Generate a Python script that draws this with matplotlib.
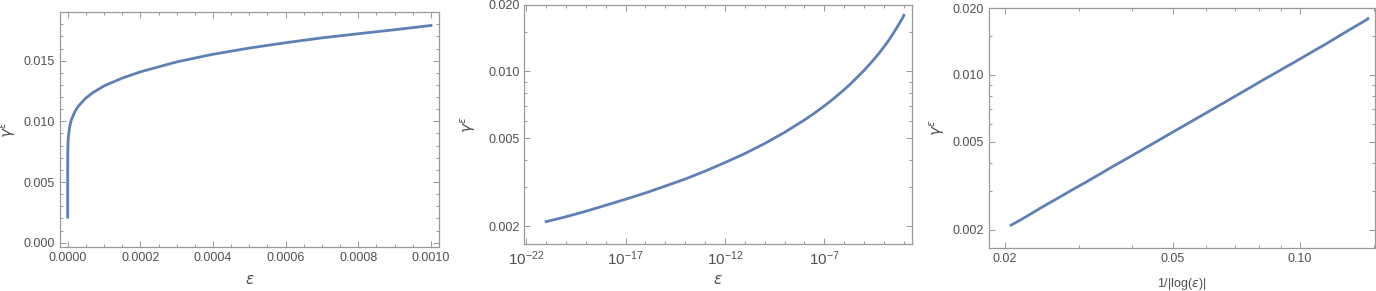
import numpy as np
import matplotlib
matplotlib.use("Agg")
import matplotlib.pyplot as plt
from matplotlib.ticker import FixedLocator, NullFormatter, FuncFormatter

# values
eps = [1e-21, 1e-20, 1e-19, 1e-18, 1e-17, 1e-16, 1e-15, 1e-14, 1e-13,
       1e-12, 1e-11, 1e-10, 1e-9, 1e-8, 3e-8, 1e-7, 3e-7, 1e-6, 2e-6,
       5e-6, 1e-5, 2e-5, 3e-5, 5e-5, 7e-5, 1e-4, 1.5e-4, 2e-4, 3e-4,
       4e-4, 5e-4, 6e-4, 7e-4, 8e-4, 9e-4, 1e-3]
gamma = [0.00210, 0.00221, 0.00234, 0.00249, 0.00265, 0.00283, 0.00304,
         0.00327, 0.00355, 0.00388, 0.00426, 0.00473, 0.00531, 0.00604,
         0.00646, 0.00699, 0.00755, 0.00828, 0.00876, 0.00950, 0.01011,
         0.01083, 0.01128, 0.01192, 0.01238, 0.01292, 0.01356, 0.01408,
         0.01490, 0.01553, 0.01604, 0.01648, 0.01688, 0.01722, 0.01755,
         0.01790]

eps = np.array(eps)
gamma = np.array(gamma)
inv_log = 1.0 / np.abs(np.log(eps))

LINE = "#5E81B5"
FRAME = "#999999"
TXT = "#505050"

plt.rcParams["font.family"] = ["Liberation Sans", "DejaVu Sans"]
plt.rcParams["font.size"] = 9

fig = plt.figure(figsize=(13.76, 2.91), dpi=100)
ax1 = fig.add_axes([0.0436, 0.1522, 0.2754, 0.8065])
ax2 = fig.add_axes([0.3810, 0.1605, 0.2815, 0.8234])
ax3 = fig.add_axes([0.7188, 0.1488, 0.2805, 0.8237])


def style(ax, ylab_x):
    for s in ax.spines.values():
        s.set_color(FRAME)
        s.set_linewidth(0.9)
    ax.tick_params(which="both", direction="in", top=True, right=True,
                   colors=FRAME, labelcolor=TXT, labelsize=9, width=0.7)
    ax.tick_params(which="major", length=4.5)
    ax.tick_params(which="minor", length=2.5)
    ax.set_ylabel(r"$\gamma^{\epsilon}$", color=TXT, fontsize=11)
    ax.yaxis.set_label_coords(ylab_x, 0.5)


# linear plot
ax1.plot(eps, gamma, color=LINE, lw=2)
ax1.set_xlim(-0.0000212, 0.001022)
ax1.set_ylim(-0.00033, 0.01901)
ax1.xaxis.set_major_locator(FixedLocator(np.arange(0, 0.00101, 0.0002)))
ax1.xaxis.set_minor_locator(FixedLocator(np.arange(0, 0.00101, 0.00005)))
ax1.yaxis.set_major_locator(FixedLocator([0, 0.005, 0.010, 0.015]))
ax1.yaxis.set_minor_locator(FixedLocator(np.arange(0, 0.0191, 0.001)))
ax1.xaxis.set_major_formatter(FuncFormatter(lambda v, p: f"{v:.4f}"))
ax1.yaxis.set_major_formatter(FuncFormatter(lambda v, p: f"{v:.3f}"))
ax1.set_xlabel(r"$\epsilon$", color=TXT, fontsize=11, labelpad=7)
style(ax1, -0.11)

# log-log in eps
ax2.plot(eps, gamma, color=LINE, lw=2)
ax2.set_xscale("log")
ax2.set_yscale("log")
ax2.set_xlim(10 ** -22.1, 10 ** -2.61)
ax2.set_ylim(0.00166, 0.0200)
ax2.xaxis.set_major_locator(FixedLocator([1e-22, 1e-17, 1e-12, 1e-7]))
ax2.xaxis.set_minor_locator(FixedLocator([10.0 ** k for k in range(-22, -2)]))
ax2.xaxis.set_minor_formatter(NullFormatter())
ax2.xaxis.set_major_formatter(
    FuncFormatter(lambda v, p: r"$\mathregular{10^{%d}}$" % round(np.log10(v))))
ax2.yaxis.set_major_locator(FixedLocator([0.002, 0.005, 0.010, 0.020]))
ax2.yaxis.set_minor_locator(FixedLocator([0.003, 0.004, 0.006, 0.007, 0.008,
                                          0.009, 0.015]))
ax2.yaxis.set_minor_formatter(NullFormatter())
ax2.yaxis.set_major_formatter(FuncFormatter(lambda v, p: f"{v:.3f}"))
ax2.set_xlabel(r"$\epsilon$", color=TXT, fontsize=11, labelpad=4)
style(ax2, -0.119)
ax2.tick_params(axis="x", which="major", labelsize=11)

# log-log in 1/|log eps|
ax3.plot(inv_log, gamma, color=LINE, lw=2)
ax3.set_xscale("log")
ax3.set_yscale("log")
ax3.set_xlim(0.01833, 0.1505)
ax3.set_ylim(0.00166, 0.0200)
ax3.xaxis.set_major_locator(FixedLocator([0.02, 0.05, 0.10]))
ax3.xaxis.set_minor_locator(FixedLocator([0.03, 0.04, 0.06, 0.07, 0.08,
                                          0.09, 0.15]))
ax3.xaxis.set_minor_formatter(NullFormatter())
ax3.xaxis.set_major_formatter(FuncFormatter(lambda v, p: f"{v:.2f}"))
ax3.yaxis.set_major_locator(FixedLocator([0.002, 0.005, 0.010, 0.020]))
ax3.yaxis.set_minor_locator(FixedLocator([0.003, 0.004, 0.006, 0.007, 0.008,
                                          0.009, 0.015]))
ax3.yaxis.set_minor_formatter(NullFormatter())
ax3.yaxis.set_major_formatter(FuncFormatter(lambda v, p: f"{v:.3f}"))
ax3.set_xlabel(r"1/|log($\epsilon$)|", color=TXT, fontsize=9, labelpad=8)
style(ax3, -0.109)

fig.savefig("out.png", dpi=100)
